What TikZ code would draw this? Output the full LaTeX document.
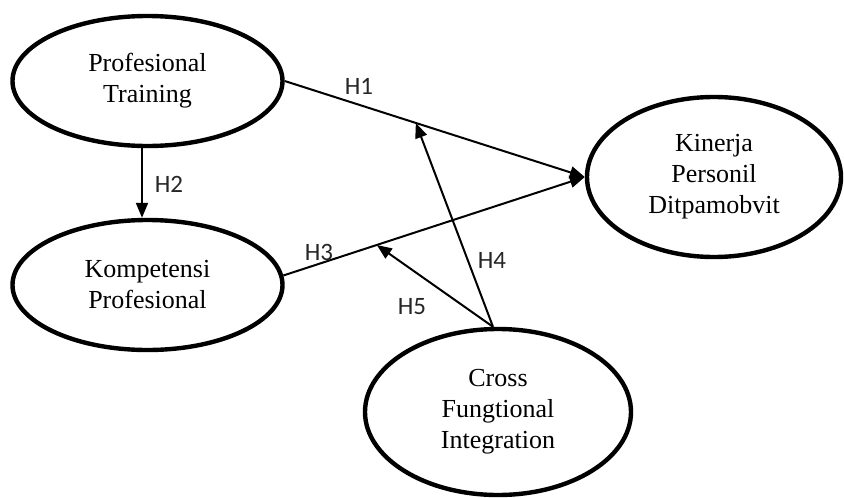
\documentclass[tikz,border=0pt]{standalone}
\usepackage{fontspec}
\setmainfont{Liberation Serif}
\newfontfamily\labfont{Carlito}
\usetikzlibrary{shapes.geometric,arrows.meta}
\tikzset{
  construct/.style={ellipse, draw=black, line width=4.4pt, inner sep=0pt, align=center,
    font=\fontsize{26}{31}\selectfont},
  path/.style={draw=black, line width=2pt, -{Triangle[length=15pt,width=12pt]}},
  hyp/.style={font=\labfont\fontsize{25}{27}\selectfont, text=black!85, inner sep=0pt}
}
\begin{document}
\begin{tikzpicture}[x=1pt,y=-1pt]
\useasboundingbox (0,0) rectangle (844,498);
\node[construct, minimum width=270pt, minimum height=130pt] (pt) at (147.5,81) {Profesional\\Training};
\node[construct, minimum width=270pt, minimum height=130pt] (kom) at (147.5,285) {Kompetensi\\Profesional};
\node[construct, minimum width=254pt, minimum height=160pt] (kin) at (714,177) {Kinerja\\Personil\\Ditpamobvit};
\node[construct, minimum width=266pt, minimum height=166pt] (cfi) at (498,412) {Cross\\Fungtional\\Integration};

\draw[path] (pt.east) -- coordinate[pos=0.437] (m1) (kin.west);
\draw[path] (kom.4) -- coordinate[pos=0.31] (m3) (kin.west);
\draw[path] (pt.south -| 142,0) -- (kom.north -| 142,0);
\draw[path] (cfi.north) ++(-5,0) coordinate (c1) -- (m1);
\draw[path] (c1) -- (m3);

\node[hyp] (h1) at (359,86) {H1};
\node[hyp] (h2) at (169,184) {H2};
\node[hyp] (h3) at (319,252) {H3};
\node[hyp] (h4) at (492,260) {H4};
\node[hyp] (h5) at (412,307) {H5};
\end{tikzpicture}
\end{document}
